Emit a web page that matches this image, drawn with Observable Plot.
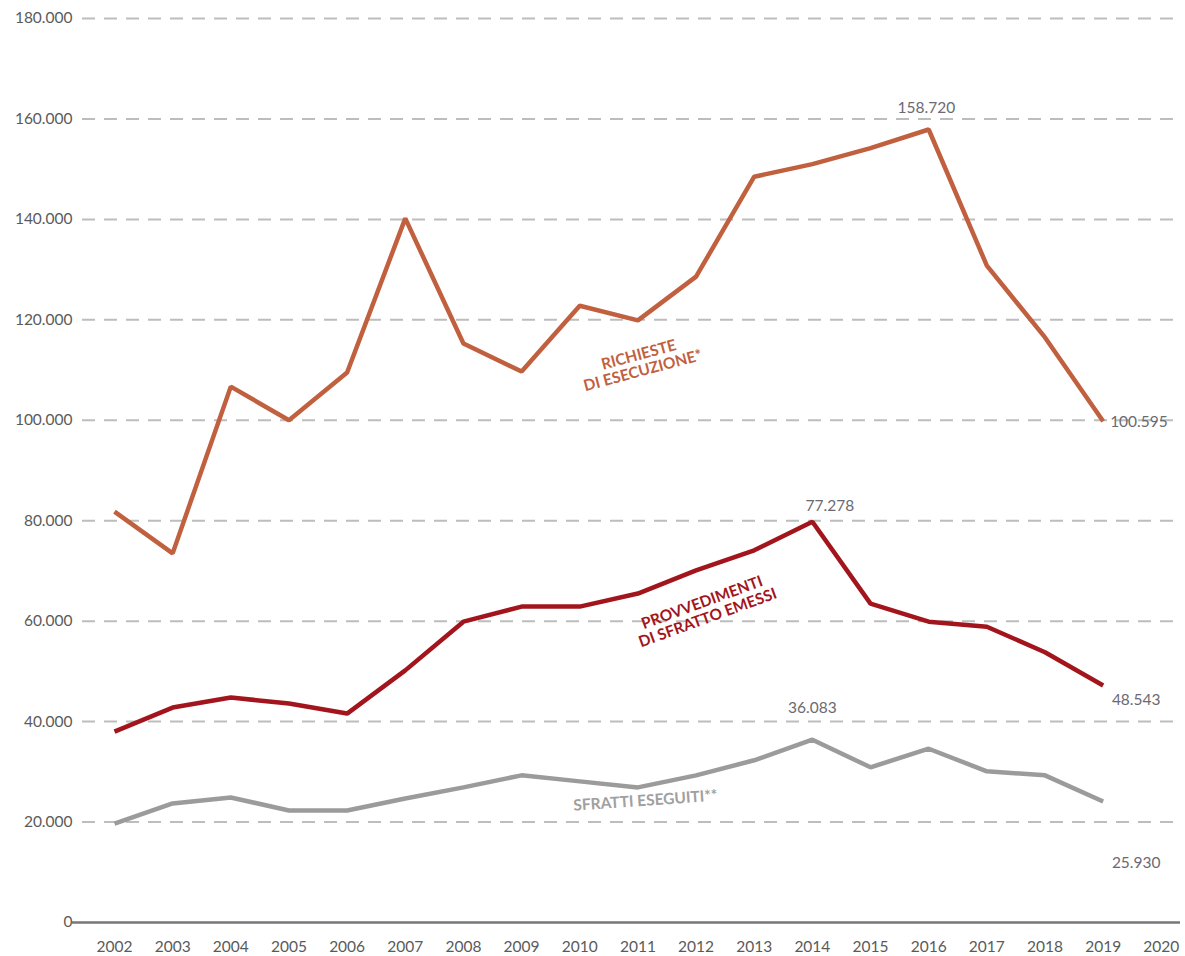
<!DOCTYPE html>
<html>
<head>
<meta charset="utf-8">
<script src="https://cdn.jsdelivr.net/npm/d3@7"></script>
<script src="https://cdn.jsdelivr.net/npm/@observablehq/plot@0.6"></script>
<style>
  body { margin: 0; background: #fff; }
  #chart svg { display: block; }
</style>
</head>
<body>
<div id="chart"></div>
<script>
const years = [2002,2003,2004,2005,2006,2007,2008,2009,2010,2011,2012,2013,2014,2015,2016,2017,2018,2019];
const richieste = [81800,73500,106700,100000,109500,140200,115300,109700,122800,119900,128600,148500,151000,154200,157900,130800,116500,99800];
const provvedimenti = [38000,42800,44800,43600,41600,50200,59900,62900,62900,65500,70100,74100,79800,63500,59900,58900,53800,47200];
const sfratti = [19700,23700,24900,22300,22300,24700,26900,29300,28100,26900,29300,32300,36400,30900,34600,30100,29300,24100];

const seriesNames = ["Richieste di esecuzione", "Provvedimenti di sfratto emessi", "Sfratti eseguiti"];
const seriesColors = ["#c1603f", "#a3151c", "#9b9b9b"];

const yTicks = [0,20000,40000,60000,80000,100000,120000,140000,160000,180000];
const xTicks = [2002,2003,2004,2005,2006,2007,2008,2009,2010,2011,2012,2013,2014,2015,2016,2017,2018,2019,2020];

// series annotations (label text, anchor year, anchor value, rotation)
const seriesLabels = [
  {text: "RICHIESTE\nDI ESECUZIONE*", year: 2011.05, value: 111500, rotate: -15, color: "#c1603f"},
  {text: "PROVVEDIMENTI\nDI SFRATTO EMESSI", year: 2012.15, value: 62200, rotate: -20, color: "#a3151c"},
  {text: "SFRATTI ESEGUITI**", year: 2011.13, value: 24300, rotate: -4, color: "#a0a0a0"}
];
// value annotations (centered above peaks)
const peakLabels = [
  {text: "158.720", year: 2015.96, value: 162200},
  {text: "77.278", year: 2014.3, value: 83000},
  {text: "36.083", year: 2014.0, value: 42800}
];
// value annotations (right of last points)
const endLabels = [
  {text: "100.595", year: 2019.12, value: 99600},
  {text: "48.543", year: 2019.15, value: 44300},
  {text: "25.930", year: 2019.15, value: 11800}
];

const table = [];
[richieste, provvedimenti, sfratti].forEach((vals, i) => {
  vals.forEach((v, j) => table.push({series: seriesNames[i], year: years[j], value: v}));
});

const fmt = d => d3.format(",")(d).replace(/,/g, ".");

const chart = Plot.plot({
  width: 1185,
  height: 956,
  marginTop: 18,
  marginBottom: 34,
  marginLeft: 82,
  marginRight: 5,
  style: {fontFamily: "Lato, 'Open Sans', sans-serif", fontSize: "14px", color: "#5a5a5a", background: "#fff"},
  x: {domain: [2001.45, 2020.33], ticks: xTicks, tickFormat: d => String(d)},
  y: {domain: [0, 180000], ticks: yTicks, tickFormat: fmt},
  color: {domain: seriesNames, range: seriesColors},
  marks: [
    Plot.ruleY(yTicks.filter(d => d > 0), {stroke: "#bdbdbd", strokeWidth: 2, strokeDasharray: "13,9"}),
    Plot.ruleY([0], {stroke: "#777", strokeWidth: 2.5, insetLeft: -10}),
    Plot.axisY({ticks: yTicks, tickFormat: fmt, tickSize: 0, tickPadding: 10, label: null, fontSize: 15.5}),
    Plot.axisX({ticks: xTicks, tickFormat: d => String(d), tickSize: 0, tickPadding: 18, label: null, fontSize: 15.5}),
    Plot.line(table, {x: "year", y: "value", z: "series", stroke: "series", strokeWidth: 4.5, strokeLinejoin: "miter", strokeLinecap: "butt"}),
    Plot.text(seriesLabels, {x: "year", y: "value", text: "text", rotate: "rotate", fill: "color", fontWeight: "bold", fontSize: 15.5, lineHeight: 1.05}),
    Plot.text(peakLabels, {x: "year", y: "value", text: "text", textAnchor: "middle", fill: "#6a6a72", fontSize: 15.5}),
    Plot.text(endLabels, {x: "year", y: "value", text: "text", textAnchor: "start", fill: "#6a6a72", fontSize: 15.5})
  ]
});
document.getElementById("chart").appendChild(chart);
</script>
</body>
</html>
